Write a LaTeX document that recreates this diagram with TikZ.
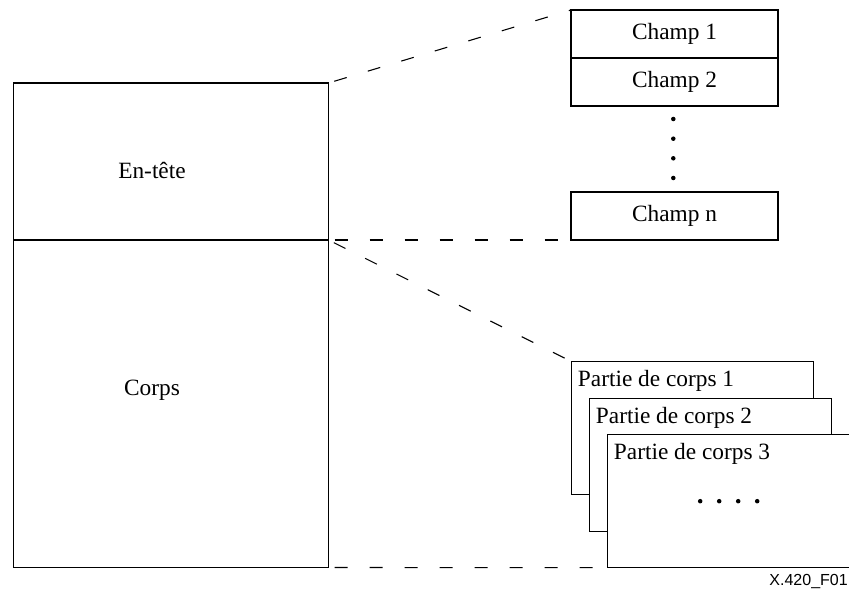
\documentclass[tikz,border=0pt]{standalone}
\usepackage{fontspec}
\setmainfont{Liberation Serif}
\setsansfont{Liberation Sans}
\usepackage{tikz}
\usetikzlibrary{positioning}

\begin{document}
\begin{tikzpicture}[
  x=0.75pt, y=-0.75pt,
  lbl/.style={font=\fontsize{17.5}{21}\selectfont, inner sep=0pt},
  msgbox/.style={rectangle, draw, line width=0.8pt, outer sep=0pt, minimum width=236.25pt},
  fieldbox/.style={rectangle, draw, line width=0.8pt, outer sep=0pt, minimum width=155.25pt,
                   minimum height=36pt, font=\fontsize{17.5}{21}\selectfont},
  partbox/.style={rectangle, draw, line width=0.8pt, fill=white, outer sep=0pt,
                  minimum width=181.5pt, minimum height=99.75pt},
  link/.style={line width=0.8pt, dash pattern=on 9.75pt off 16.5pt, shorten <=4.5pt}
]
\useasboundingbox (0,0) rectangle (849,591);

% message: en-tete + corps
\node[msgbox, minimum height=117.75pt] (entete) at (171,161.5) {};
\node[msgbox, minimum height=245.6pt, below=0pt of entete] (corps) {};
\node[lbl, anchor=base] (tentete) at (152,179) {En-tête};
\node[lbl, anchor=base] (tcorps) at (152,395) {Corps};

% champs
\node[fieldbox] (champ1) at (674.5,34) {Champ 1};
\node[fieldbox, below=0pt of champ1] (champ2) {Champ 2};
\node[fieldbox] (champn) at (674.5,216) {Champ n};
\foreach \y in {119,138.7,158.3,178}
  \fill (673.3,\y) circle (1.7pt);

% parties de corps
\node[partbox] (part1) at (692.7,428.2) {};
\node[partbox] (part2) at ([shift={(18,36.5)}]part1) {};
\node[partbox] (part3) at ([shift={(18,36.5)}]part2) {};
\foreach \i in {1,2,3}
  \node[lbl, anchor=base west] (tpart\i) at ([shift={(6,25)}]part\i.north west) {Partie de corps \i};
\foreach \dx in {-28.5,-9.5,9.5,28.5}
  \fill ([shift={(\dx,0)}]part3.center) circle (1.7pt);

% liens
\draw[link] (entete.north east) -- (champ1.north west);
\draw[link] (entete.south east) -- (champn.south west);
\draw[link] (corps.north east) -- (part1.north west);
\draw[link] (corps.south east) -- (part3.south west);

\node[font=\sffamily\fontsize{12}{14}\selectfont, anchor=base east, inner sep=0pt] (ref) at (848,585) {X.420\_F01};
\end{tikzpicture}
\end{document}
